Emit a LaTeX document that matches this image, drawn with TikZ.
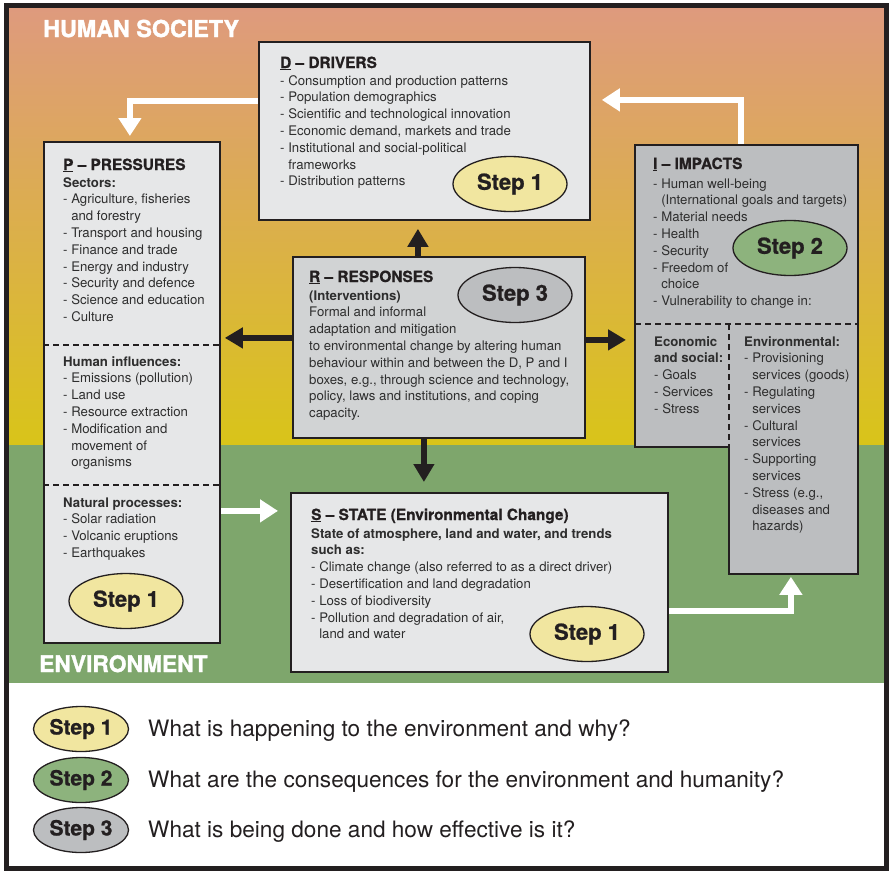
\documentclass[tikz,border=0pt]{standalone}
\usepackage{fontspec}
\setmainfont{TeX Gyre Heros}
\newfontface\heavyfont[FakeBold=1.5,Ligatures=TeX]{texgyreheros-bold.otf}
\newfontface\semiheavyfont[FakeBold=0.8,Ligatures=TeX]{texgyreheros-bold.otf}
\usetikzlibrary{arrows.meta,shapes.geometric}
\definecolor{bgtop}{HTML}{DE9A7E}
\definecolor{bgmid}{HTML}{DBAE5C}
\definecolor{bgbot}{HTML}{D9C419}
\definecolor{envg}{HTML}{7EA66C}
\definecolor{lc}{HTML}{231F20}
\definecolor{tc}{HTML}{2E2E2E}
\definecolor{lgray}{HTML}{E6E7E8}
\definecolor{mgray}{HTML}{D1D3D4}
\definecolor{igray}{HTML}{BCBEC0}
\definecolor{sone}{HTML}{F1E6A0}
\definecolor{stwo}{HTML}{8DB37D}
\definecolor{sthree}{HTML}{BCBEC0}
\newcommand\contind{\hphantom{- }}
\pgfdeclarelayer{bg}
\pgfdeclarelayer{arr}
\pgfsetlayers{bg,arr,main}
\begin{document}
\begin{tikzpicture}[x=1pt,y=-1pt,
 box/.style={draw=lc, line width=1.8pt, inner sep=0pt, anchor=north west},
 tx/.style={anchor=base west, inner sep=0pt, font=\fontsize{13.2}{16.8}\selectfont, text=tc},
 ttl/.style={anchor=base west, inner sep=0pt, font=\semiheavyfont\fontsize{15.4}{18}\selectfont, text=lc},
 stepbox/.style={ellipse, draw=lc, line width=1.3pt, minimum width=114pt, minimum height=55pt, inner sep=0pt, font=\semiheavyfont\fontsize{22}{22}\selectfont, text=lc},
 legstep/.style={stepbox, minimum width=95pt, minimum height=45pt, font=\semiheavyfont\fontsize{21}{21}\selectfont},
 legtx/.style={anchor=base west, inner sep=0pt, font=\fontsize{22.6}{26}\selectfont, text=lc},
 warrow/.style={draw=white, line width=6pt, -{Triangle[width=22pt,length=18pt]}},
 barrow/.style={draw=lc, line width=5.5pt, -{Triangle[width=20pt,length=18pt]}},
 divider/.style={draw=lc, line width=1.8pt, dash pattern=on 6pt off 4pt},
 region/.style={anchor=base west, inner sep=0pt, text=white, font=\heavyfont\fontsize{23.3}{24}\selectfont}
]
\useasboundingbox (0,0) rectangle (889,871);
\begin{pgfonlayer}{bg}
\fill[white] (0,0) rectangle (889,871);
\shade[top color=bgtop, middle color=bgmid, bottom color=bgbot] (6,6) rectangle (886,445);
\fill[envg] (6,445) rectangle (886,683);
\end{pgfonlayer}

% boxes
\node[box, fill=lgray, minimum width=331pt, minimum height=178pt] (D) at (258,41) {};
\node[box, fill=lgray, minimum width=176pt, minimum height=501pt] (P) at (43,141) {};
\node[box, fill=mgray, minimum width=292pt, minimum height=181pt] (R) at (292,256) {};
\node[box, fill=lgray, minimum width=377pt, minimum height=179pt] (S) at (290,492) {};
\node[box, draw=none, fill=igray, minimum width=221pt, minimum height=300pt] (I) at (635,145) {};
\node[box, draw=none, fill=igray, minimum width=127pt, minimum height=248pt] (Ienv) at (729,324) {};
\draw[lc, line width=1.8pt] (I.north west) -- (I.north east) -- (Ienv.south east) -- (Ienv.south west) -- (Ienv.south west |- I.south) -- (I.south west) -- cycle;
\draw[divider] (I.west |- Ienv.north) -- (Ienv.north east);
\draw[divider] (Ienv.north west) -- (Ienv.south west |- I.south);
\draw[divider] (P.west |- 0,345) -- (P.east |- 0,345);
\draw[divider] (P.west |- 0,485) -- (P.east |- 0,485);

% arrows
\begin{pgfonlayer}{arr}
\draw[warrow, shorten >=5pt] ([yshift=30pt]D.west) -| ([xshift=-2pt]P.north);
\draw[warrow, shorten >=11pt] ([xshift=-5.5pt]I.north) |- ([yshift=31pt]D.east);
\draw[warrow, shorten >=12pt] ([yshift=-118.5pt]P.east) -- ([yshift=-118.5pt]P.east -| S.west);
\draw[warrow, shorten >=3pt] ([yshift=-28.5pt]S.east) -| ([xshift=-2.5pt]Ienv.south);
\draw[barrow, shorten >=8pt] ([xshift=-21pt]R.north) -- ([xshift=-21pt]R.north |- D.south);
\draw[barrow, shorten >=10pt] ([xshift=-15pt]R.south) -- ([xshift=-15pt]R.south |- S.north);
\draw[barrow, shorten >=4pt] ([yshift=9.5pt]R.west) -- ([yshift=9.5pt]R.west -| P.east);
\draw[barrow, shorten >=9pt] ([yshift=7.5pt]R.east) -- ([yshift=7.5pt]R.east -| I.west);
\end{pgfonlayer}

% region labels
\node[region] (hs) at (43,37) {HUMAN SOCIETY};
\node[region, font=\heavyfont\fontsize{22.8}{24}\selectfont] (env) at (39,672) {ENVIRONMENT};

% D text
\node[ttl] (Dt) at (280,68) {\underline{D} – DRIVERS};
\node[tx] (Dl) at (280,85) {\begin{tabular}[t]{@{}l@{}}
- Consumption and production patterns\\
- Population demographics\\
- Scientific and technological innovation\\
- Economic demand, markets and trade\\
- Institutional and social-political\\
\contind frameworks\\
- Distribution patterns
\end{tabular}};

% P text
\node[ttl] (Pt) at (63,170) {\underline{P} – PRESSURES};
\node[tx] (Pl1) at (63,187) {\begin{tabular}[t]{@{}l@{}}
\textbf{Sectors:}\\
- Agriculture, fisheries\\
\contind and forestry\\
- Transport and housing\\
- Finance and trade\\
- Energy and industry\\
- Security and defence\\
- Science and education\\
- Culture
\end{tabular}};
\node[tx] (Pl2) at (63,366) {\begin{tabular}[t]{@{}l@{}}
\textbf{Human influences:}\\
- Emissions (pollution)\\
- Land use\\
- Resource extraction\\
- Modification and\\
\contind movement of\\
\contind organisms
\end{tabular}};
\node[tx] (Pl3) at (63,507) {\begin{tabular}[t]{@{}l@{}}
\textbf{Natural processes:}\\
- Solar radiation\\
- Volcanic eruptions\\
- Earthquakes
\end{tabular}};

% R text
\node[ttl] (Rt) at (309,282) {\underline{R} – RESPONSES};
\node[tx] (Rl) at (309,300) {\begin{tabular}[t]{@{}l@{}}
\textbf{(Interventions)}\\
Formal and informal\\
adaptation and mitigation\\
to environmental change by altering human\\
behaviour within and between the D, P and I\\
boxes, e.g., through science and technology,\\
policy, laws and institutions, and coping\\
capacity.
\end{tabular}};

% I text
\node[ttl] (It) at (653,169) {\underline{I} – IMPACTS};
\node[tx] (Il) at (653,188) {\begin{tabular}[t]{@{}l@{}}
- Human well-being\\
\contind(International goals and targets)\\
- Material needs\\
- Health\\
- Security\\
- Freedom of\\
\contind choice\\
- Vulnerability to change in:
\end{tabular}};
\node[tx] (Iec) at (654,346) {\begin{tabular}[t]{@{}l@{}}
\textbf{Economic}\\
\textbf{and social:}\\
- Goals\\
- Services\\
- Stress
\end{tabular}};
\node[tx] (Ienvl) at (744,346) {\begin{tabular}[t]{@{}l@{}}
\textbf{Environmental:}\\
- Provisioning\\
\contind services (goods)\\
- Regulating\\
\contind services\\
- Cultural\\
\contind services\\
- Supporting\\
\contind services\\
- Stress (e.g.,\\
\contind diseases and\\
\contind hazards)
\end{tabular}};

% S text
\node[ttl] (St) at (311,520) {\underline{S} – STATE (Environmental Change)};
\node[tx] (Sl) at (311,538) {\begin{tabular}[t]{@{}l@{}}
\textbf{State of atmosphere, land and water, and trends}\\
\textbf{such as:}\\
- Climate change (also referred to as a direct driver)\\
- Desertification and land degradation\\
- Loss of biodiversity\\
- Pollution and degradation of air,\\
\contind land and water
\end{tabular}};

% step ellipses
\node[stepbox, fill=sone] (Dstep) at (510,184) {Step 1};
\node[stepbox, fill=stwo] (Istep) at (790,248) {Step 2};
\node[stepbox, fill=sthree] (Rstep) at (515,295) {Step 3};
\node[stepbox, fill=sone] (Pstep) at (126,601) {Step 1};
\node[stepbox, fill=sone] (Sstep) at (587,634) {Step 1};

% legend
\node[legstep, fill=sone] (L1) at (81,729) {Step 1};
\node[legstep, fill=stwo] (L2) at (81,780) {Step 2};
\node[legstep, fill=sthree] (L3) at (81,830) {Step 3};
\node[legtx] (L1t) at (148,736) {What is happening to the environment and why?};
\node[legtx] (L2t) at (148,787) {What are the consequences for the environment and humanity?};
\node[legtx] (L3t) at (148,837) {What is being done and how effective is it?};

% outer frame
\draw[lc, line width=5pt] (6,5.5) rectangle (886.5,868.5);
\end{tikzpicture}
\end{document}
